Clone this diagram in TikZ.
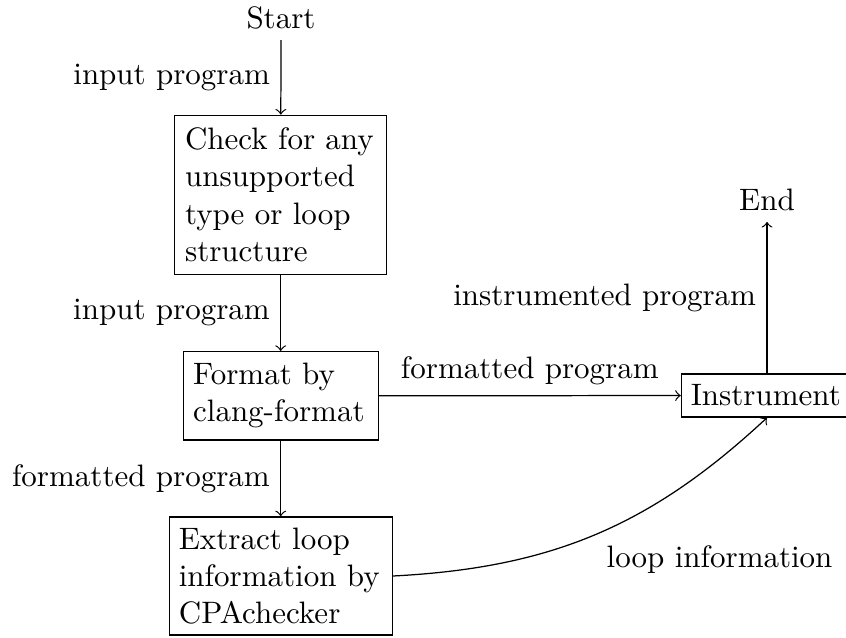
\documentclass[tikz,border=0pt]{standalone}
\begin{document}
\begin{tikzpicture}[x=0.3226pt,y=-0.3226pt,
  procbox/.style={draw, align=left, inner ysep=3.33pt, minimum height=#1},
  flow/.style={->}]
\useasboundingbox (0,0) rectangle (846,637);
\node (start) at (281,18) {Start};
\node[procbox=51.3pt, inner xsep=3.33pt, text width=61.7pt] (check) at (280.7,194.8) {Check for any\\unsupported\\type or loop\\structure};
\node[procbox=28.5pt, inner xsep=3.2pt, text width=56.5pt] (format) at (280.7,395.8) {Format by\\clang-format};
\node[procbox=38.1pt, inner xsep=3.1pt, text width=65.7pt] (extract) at (280.7,576) {Extract loop\\information by\\CPAchecker};
\node[procbox=13.9pt, inner xsep=3pt, text width=49.2pt] (instr) at (767,395.5) {Instrument};
\node (end) at (767,200) {End};
\draw[flow] (start) -- node[left] {input program} (check);
\draw[flow] (check) -- node[left] {input program} (format);
\draw[flow] (format) -- node[left] {formatted program} (extract);
\draw[flow] (format) -- node[above] {formatted program} (instr);
\draw[flow] (instr) -- node[left] {instrumented program} (end);
\draw[flow] (extract.east) to[bend right=20] node[pos=0.5, below right] {loop information} (instr.south);
\end{tikzpicture}
\end{document}
